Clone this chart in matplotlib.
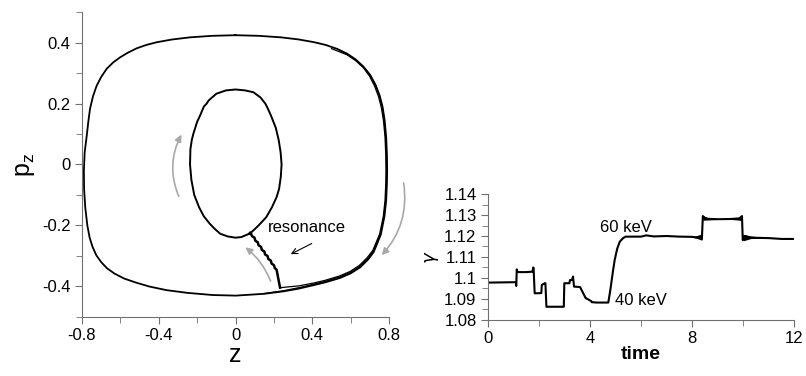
import numpy as np
import matplotlib
matplotlib.use('Agg')
import matplotlib.pyplot as plt
from matplotlib.patches import FancyArrowPatch

plt.rcParams['font.family'] = ['Liberation Sans', 'DejaVu Sans']

# ---- left panel: phase portrait (z, p_z) ----
# outer orbit, clockwise from the top
outer_z = [0.0, 0.12, 0.237, 0.33, 0.41, 0.47, 0.53, 0.58, 0.625, 0.665, 0.7, 0.728, 0.75,
           0.766, 0.777, 0.785, 0.789, 0.79,
           0.789, 0.785, 0.776, 0.757, 0.72, 0.69, 0.65, 0.6, 0.545, 0.47, 0.405, 0.33,
           0.25, 0.15, 0.0,
           -0.12, -0.25, -0.36, -0.45, -0.52, -0.58, -0.63, -0.67, -0.7, -0.725, -0.745,
           -0.76, -0.772, -0.783, -0.789, -0.79,
           -0.786, -0.775, -0.767, -0.758, -0.742, -0.723, -0.7, -0.671, -0.637, -0.6,
           -0.56, -0.515, -0.465, -0.41, -0.33, -0.237, -0.12, 0.0]
outer_p = [0.424, 0.422, 0.417, 0.41, 0.401, 0.392, 0.379, 0.364, 0.345, 0.322, 0.295, 0.263,
           0.228, 0.19, 0.145, 0.09, 0.03, -0.02,
           -0.06, -0.118, -0.17, -0.23, -0.287, -0.312, -0.337, -0.357, -0.372, -0.386,
           -0.396, -0.407, -0.416, -0.424, -0.43,
           -0.428, -0.421, -0.412, -0.4, -0.387, -0.374, -0.358, -0.34, -0.32, -0.298,
           -0.27, -0.24, -0.2, -0.14, -0.08, -0.02,
           0.04, 0.095, 0.14, 0.183, 0.225, 0.259, 0.287, 0.314, 0.335, 0.352,
           0.367, 0.381, 0.392, 0.401, 0.41, 0.417, 0.422, 0.424]

# two later laps running just inside the orbit on the right
lapb_z = [0.55, 0.6, 0.64, 0.675, 0.705, 0.73, 0.75, 0.765, 0.775, 0.782, 0.786, 0.787,
          0.786, 0.782, 0.773, 0.754, 0.717, 0.687, 0.647, 0.598, 0.542, 0.468, 0.404,
          0.33, 0.25, 0.15]
lapb_p = [0.372, 0.355, 0.336, 0.314, 0.29, 0.26, 0.226, 0.188, 0.144, 0.09, 0.03, -0.02,
          -0.06, -0.118, -0.17, -0.23, -0.285, -0.31, -0.334, -0.354, -0.369, -0.383, -0.393,
          -0.404, -0.414, -0.423]
lapa_z = [0.5, 0.58, 0.625, 0.665, 0.698, 0.724, 0.745, 0.76, 0.771, 0.779, 0.783, 0.784,
          0.783, 0.779, 0.77, 0.751, 0.715, 0.684, 0.645, 0.596, 0.54, 0.466, 0.405,
          0.33, 0.232]
lapa_p = [0.38, 0.36, 0.341, 0.318, 0.29, 0.258, 0.223, 0.186, 0.143, 0.09, 0.03, -0.02,
          -0.06, -0.118, -0.17, -0.228, -0.282, -0.307, -0.331, -0.351, -0.366, -0.38,
          -0.389, -0.398, -0.404]

# resonance: jagged climb onto the inner orbit
jag_z = [0.232, 0.214, 0.205, 0.200, 0.188, 0.184, 0.171, 0.167, 0.154, 0.150, 0.137,
         0.133, 0.120, 0.116, 0.103, 0.099, 0.086, 0.082, 0.076]
jag_p = [-0.404, -0.345, -0.340, -0.330, -0.325, -0.315, -0.310, -0.300, -0.295, -0.285,
         -0.280, -0.270, -0.265, -0.255, -0.250, -0.240, -0.235, -0.228, -0.224]

inner_z = [0.076, 0.03, 0.0, -0.04, -0.08, -0.11, -0.133, -0.165, -0.19, -0.215, -0.23,
           -0.237, -0.235, -0.228, -0.22, -0.2, -0.185, -0.165, -0.15, -0.14, -0.1, -0.05,
           0.0, 0.05, 0.093, 0.13, 0.155, 0.165, 0.185, 0.21, 0.225, 0.235, 0.24, 0.236,
           0.227, 0.214, 0.19, 0.16, 0.12, 0.1, 0.076]
inner_p = [-0.226, -0.238, -0.24, -0.236, -0.227, -0.21, -0.195, -0.17, -0.14, -0.1, -0.05,
           0.0, 0.05, 0.08, 0.10, 0.14, 0.16, 0.19, 0.2, 0.21, 0.232, 0.243,
           0.246, 0.243, 0.237, 0.22, 0.2, 0.188, 0.16, 0.12, 0.08, 0.04, 0.0, -0.04,
           -0.08, -0.107, -0.14, -0.173, -0.2, -0.212, -0.226]

# ---- right panel: gamma vs time ----
t_vals = [0, 1.1, 1.12, 1.14, 1.16, 1.2, 1.5, 1.75, 1.79, 1.8, 1.84, 1.86, 2.1, 2.12,
          2.24, 2.26, 2.3, 2.98, 3.0, 3.2, 3.22, 3.3, 3.34, 3.38, 3.6, 3.62, 3.84, 3.86,
          4.05, 4.07, 4.25, 4.72, 4.8, 4.9, 4.97, 5.07, 5.17, 5.3, 5.4, 6.0, 6.2, 6.5,
          7.0, 7.5, 8.0, 8.3, 8.38, 8.42, 8.5, 8.6, 9.0, 9.5, 9.85, 9.95, 9.98, 10.05,
          10.3, 11.0, 11.5, 12.0]
gamma = [1.0978, 1.0980, 1.0962, 1.1041, 1.1030, 1.1028, 1.1028, 1.1030, 1.1050, 1.1040,
         1.0927, 1.0927, 1.0928, 1.0967, 1.0975, 1.0975, 1.0863, 1.0863, 1.0975, 1.0975,
         1.0990, 1.0990, 1.1007, 1.0959, 1.0957, 1.0956, 1.0903, 1.0903, 1.0890, 1.0885,
         1.0883, 1.0883, 1.0943, 1.1030, 1.1086, 1.1140, 1.1173, 1.1190, 1.1197, 1.1197,
         1.1203, 1.1198, 1.1200, 1.1197, 1.1196, 1.1190, 1.1185, 1.1295, 1.1285, 1.1282,
         1.1280, 1.1281, 1.1284, 1.1295, 1.1180, 1.1200, 1.1192, 1.1190, 1.1186, 1.1186]

# fast-oscillation envelopes around the jumps
band_t = [[8.0, 8.2, 8.38], [8.42, 8.6, 9.0], [9.5, 9.8, 9.96], [10.0, 10.3, 11.0]]
band_lo = [[1.1195, 1.1188, 1.1180], [1.1275, 1.1276, 1.1279],
           [1.1279, 1.1276, 1.1273], [1.1177, 1.1188, 1.1189]]
band_hi = [[1.1198, 1.1203, 1.1210], [1.1298, 1.1288, 1.1283],
           [1.1283, 1.1288, 1.1297], [1.1208, 1.1200, 1.1192]]

spine_col = '#707070'
arrow_col = '#a8a8a8'

fig = plt.figure(figsize=(8.06, 3.76), dpi=100)
ax1 = fig.add_axes([0.1017, 0.157, 0.381, 0.811])
ax2 = fig.add_axes([0.605, 0.149, 0.3806, 0.335])

ax1.plot(outer_z, outer_p, color='k', lw=1.3)
ax1.plot(lapb_z, lapb_p, color='k', lw=0.9)
ax1.plot(lapa_z, lapa_p, color='k', lw=0.9)
ax1.plot(jag_z, jag_p, color='k', lw=1.8)
ax1.plot(inner_z, inner_p, color='k', lw=1.4)

ax1.set_xlim(-0.8, 0.8)
ax1.set_ylim(-0.5, 0.5)
ax1.set_xticks([-0.8, -0.4, 0, 0.4, 0.8])
ax1.set_xticklabels(['-0.8', '-0.4', '0', '0.4', '0.8'])
ax1.set_xticks(np.arange(-0.8, 0.81, 0.2), minor=True)
ax1.set_yticks([-0.4, -0.2, 0, 0.2, 0.4])
ax1.set_yticklabels(['-0.4', '-0.2', '0', '0.2', '0.4'])
ax1.set_yticks(np.arange(-0.5, 0.51, 0.1), minor=True)
ax1.set_xlabel('z', fontsize=18, labelpad=0)
ax1.set_ylabel(r'p$_\mathregular{z}$', fontsize=18, labelpad=4)

# flow arrows
for start, end, rad in [((-0.29, -0.113), (-0.275, 0.106), -0.25),
                        ((0.874, -0.052), (0.752, -0.304), -0.25),
                        ((0.188, -0.391), (0.04, -0.266), 0.15)]:
    ax1.add_patch(FancyArrowPatch(start, end, connectionstyle='arc3,rad=%g' % rad,
                                  arrowstyle='-|>,head_length=4,head_width=2',
                                  color=arrow_col, lw=1.2, clip_on=False))

ax1.text(0.37, -0.205, 'resonance', fontsize=12, ha='center', va='center')
ax1.annotate('', xy=(0.275, -0.298), xytext=(0.41, -0.255),
             arrowprops=dict(arrowstyle='->', color='k', lw=0.8))

for bt, lo, hi in zip(band_t, band_lo, band_hi):
    ax2.fill_between(bt, lo, hi, color='k', lw=0)
ax2.plot(t_vals, gamma, color='k', lw=1.5)
ax2.set_xlim(0, 12)
ax2.set_ylim(1.08, 1.14)
ax2.set_xticks([0, 4, 8, 12])
ax2.set_xticks([2, 6, 10], minor=True)
ax2.set_yticks([1.08, 1.09, 1.10, 1.11, 1.12, 1.13, 1.14])
ax2.set_yticklabels(['1.08', '1.09', '1.1', '1.11', '1.12', '1.13', '1.14'])
ax2.set_yticks(np.arange(1.085, 1.14, 0.01), minor=True)
ax2.set_xlabel('time', fontsize=14, fontweight='bold', labelpad=0)
ax2.set_ylabel(r'$\gamma$', fontsize=13, labelpad=2)
ax2.text(4.39, 1.1242, '60 keV', fontsize=12, ha='left', va='center')
ax2.text(4.97, 1.0893, '40 keV', fontsize=12, ha='left', va='center')

for ax in (ax1, ax2):
    ax.spines['top'].set_visible(False)
    ax.spines['right'].set_visible(False)
    for s in ('left', 'bottom'):
        ax.spines[s].set_color(spine_col)
    ax.tick_params(which='both', direction='out', color=spine_col, labelsize=12, pad=3)
    ax.tick_params(which='major', length=5)
    ax.tick_params(which='minor', length=4)

fig.savefig('out.png', dpi=100)
